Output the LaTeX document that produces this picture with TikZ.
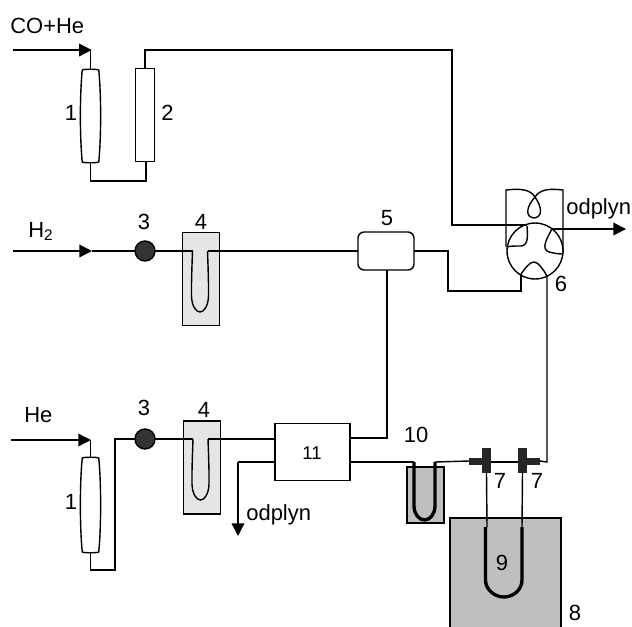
\documentclass[tikz,border=0pt]{standalone}
\usepackage{fontspec}
\setmainfont{Liberation Sans}
\usetikzlibrary{arrows.meta}
\tikzset{
  pipe/.style={line width=0.8pt},
  flow/.style={pipe,-{Triangle[length=7.2pt,width=7.2pt]}},
  thicktube/.style={line width=1.9pt},
  tag/.style={font=\fontsize{12.5}{15}\selectfont,inner sep=0pt},
  hollow/.style={draw=none,inner sep=0pt,outer sep=0pt},
  unit/.style={draw,line width=0.8pt,inner sep=0pt,outer sep=0pt},
  pump/.style={unit,circle,fill=black!80,minimum size=0.4cm},
  trapbox/.style={unit,fill=black!10,minimum width=0.75cm,minimum height=1.86cm},
  tee/.style={fill=black!85,draw=none,inner sep=0pt,outer sep=0pt},
}
% column with slightly bulged walls, drawn on an empty node
\newcommand{\barrel}[1]{
\draw[pipe] (#1.north west) .. controls +(1,-1) and +(-1,-1) .. (#1.north east)
  .. controls +(2.5,25) and +(2.5,-25) .. (#1.south east)
  .. controls +(-1,1) and +(1,1) .. (#1.south west)
  .. controls +(-2.5,-25) and +(-2.5,25) .. (#1.north west);
}
% thin U tube hanging in a trap, with its two mouths named
\newcommand{\traptube}[2]{
\begin{scope}[shift={(#2)}]
\coordinate (#1L) at (-7.5,0);
\coordinate (#1R) at (7.5,0);
\draw[pipe] (#1L) .. controls (-8.2,19) and (-8.7,34) .. (-8.5,45)
  .. controls (-8.2,55) and (-4,61) .. (0,61)
  .. controls (4,61) and (8.2,55) .. (8.5,45)
  .. controls (8.7,34) and (8.2,19) .. (#1R);
\end{scope}
}
\begin{document}
\begin{tikzpicture}[x=0.02cm,y=-0.02cm]
\useasboundingbox (0,0) rectangle (632,626);

% Top line: CO+He
\node[hollow,minimum width=0.33cm,minimum height=1.84cm] (colA) at (90.5,116) {};
\barrel{colA}
\node[unit,minimum width=0.37cm,minimum height=1.85cm] (dryer) at (145,115) {};
\coordinate (coStart) at (13,50);
\coordinate (coEnd) at (91.7,50);
\coordinate (dryerUp) at (145,50);
\coordinate (dryerTurn) at (452,50);
\coordinate (valveIn) at (527,225);
\coordinate (jointL) at (90.5,181);
\coordinate (jointR) at (146,181);
\draw[flow] (coStart) -- (coEnd);
\draw[pipe] (coEnd -| colA.north) -- (colA.north);
\draw[pipe] (colA.south) -- (jointL) -- (jointR) -- (jointR |- dryer.south);
\draw[pipe] (dryer.north) -- (dryerUp) -- (dryerTurn) -- (dryerTurn |- valveIn) -- (valveIn);

% Middle line: H2
\coordinate (hStart) at (13,251);
\coordinate (hEnd) at (92,251);
\node[pump] (pumpA) at (145,251) {};
\node[trapbox] (trapA) at (201,279) {};
\traptube{tubeA}{200,251}
\node[unit,rectangle,rounded corners=3.5pt,minimum width=1.12cm,minimum height=0.76cm] (mixer) at (386,251) {};
\draw[flow] (hStart) -- (hEnd);
\draw[pipe] (hEnd) -- (pumpA.west);
\draw[pipe] (pumpA.east) -- (tubeAL);
\draw[pipe] (tubeAR) -- (mixer.west);

% Valve
\node[unit,circle,minimum size=1.12cm] (valve) at (535,251) {};
\coordinate (loopWest) at (506,190);
\coordinate (loopEast) at (563,190);
\coordinate (loopDownW) at (506,247);
\coordinate (loopDownE) at (563,253);
\draw[pipe] (loopDownW) -- (loopWest) .. controls (520,188.5) and (530,189) .. (535,197)
  .. controls (542,207) and (543,217) .. (534,218) .. controls (525,217) and (526,207) .. (535,197)
  .. controls (540,189) and (550,188.5) .. (loopEast) -- (loopDownE);
\coordinate (chanA) at (527,226);
\coordinate (chanB) at (552,229);
\coordinate (chanC) at (521,274);
\coordinate (chanD) at (547,276);
\draw[pipe] (chanA) .. controls (528,238) and (528,247) .. (519,246) .. controls (515,246) and (510,246) .. (507,247);
\draw[pipe] (chanB) .. controls (546,240) and (541,249) .. (549,252) .. controls (553,253) and (558,254) .. (563,254);
\draw[pipe] (chanC) .. controls (526,267) and (530,262) .. (534,262) .. controls (538,262) and (543,269) .. (chanD);
\coordinate (ventA) at (626,229);
\draw[flow] (chanB) -- (ventA);
\coordinate (mixOutA) at (448,251);
\coordinate (mixOutB) at (448,291);
\draw[pipe] (mixer.east) -- (mixOutA) -- (mixOutB) -- (mixOutB -| chanC) -- (chanC);

% Bottom line: He
\node[hollow,minimum width=0.33cm,minimum height=1.88cm] (colB) at (90.5,505) {};
\barrel{colB}
\coordinate (heStart) at (11,440);
\coordinate (heEnd) at (91,440);
\coordinate (jointC) at (90.5,570);
\coordinate (jointD) at (115,570);
\coordinate (jointE) at (115,439);
\node[pump] (pumpB) at (145,439) {};
\node[trapbox] (trapB) at (202,467.5) {};
\traptube{tubeB}{200.5,439}
\node[unit,minimum width=1.5cm,minimum height=1.13cm] (unitEl) at (312.5,452) {};
\draw[flow] (heStart) -- (heEnd);
\draw[pipe] (heEnd -| colB.north) -- (colB.north);
\draw[pipe] (colB.south) -- (jointC) -- (jointD) -- (jointE) -- (pumpB.west);
\draw[pipe] (pumpB.east) -- (tubeBL);
\draw[pipe] (tubeBR) -- (tubeBR -| unitEl.west);
\coordinate (ventB) at (238,536);
\coordinate (ventTurn) at (238,462);
\draw[pipe] (unitEl.west |- ventTurn) -- (ventTurn);
\draw[flow] (ventTurn) -- (ventB);
\coordinate (elUp) at (387,438);
\draw[pipe] (mixer.south -| elUp) -- (elUp) -- (elUp -| unitEl.east);

% Cold trap and tees
\node[unit,fill=black!25,minimum width=0.74cm,minimum height=1.12cm] (trapC) at (425.5,495) {};
\coordinate (trapCL) at (414,462);
\coordinate (trapCR) at (435,462);
\draw[thicktube] (trapCL) -- (414,506) .. controls (414,514) and (419,520) .. (424.5,520)
  .. controls (430,520) and (435,514) .. (435,506) -- (trapCR);
\draw[pipe] (unitEl.east |- trapCL) -- (trapCL);
\node[tee,minimum width=0.18cm,minimum height=0.5cm] (teeA) at (486.5,460.5) {};
\node[tee,minimum width=0.18cm,minimum height=0.5cm] (teeB) at (522.5,460.5) {};
\node[tee,minimum width=0.28cm,minimum height=0.14cm] (stubA) at (476,461) {};
\node[tee,minimum width=0.28cm,minimum height=0.14cm] (stubB) at (533,461) {};
\coordinate (backTurn) at (547,462);
\draw[pipe] (trapCR) -- (stubA.west);
\draw[pipe] (teeA.east |- trapCL) -- (teeB.west |- trapCL);
\draw[pipe] (stubB.east) -- (backTurn) -- (chanD);

% Bath with reactor
\node[unit,fill=black!25,minimum width=2.22cm,minimum height=2.2cm] (bath) at (505.5,573) {};
\coordinate (loopL) at (487,527);
\coordinate (loopR) at (522,527);
\draw[pipe] (teeA.south) -- (loopL);
\draw[pipe] (teeB.south) -- (loopR);
\draw[thicktube] (485.5,527) -- (485.5,580) .. controls (485.5,590) and (495,597) .. (504,597)
  .. controls (513,597) and (522,590) .. (522,580) -- (522,527);

% Labels
\node[tag,anchor=base west] (labCo) at (10,33) {CO+He};
\node[tag,anchor=base west] (labH) at (28,237) {H\textsubscript{2}};
\node[tag,anchor=base west] (labHe) at (24,422) {He};
\node[tag,anchor=base west] (labVentA) at (566,214) {odplyn};
\node[tag,anchor=base west] (labVentB) at (246,520) {odplyn};
\node[tag] (lab1a) at (71,113) {1};
\node[tag] (lab2) at (167.5,113) {2};
\node[tag] (lab3a) at (144,222) {3};
\node[tag] (lab4a) at (201,222) {4};
\node[tag] (lab5) at (387,218) {5};
\node[tag] (lab6) at (561,284) {6};
\node[tag] (lab1b) at (71,502) {1};
\node[tag] (lab3b) at (144,408) {3};
\node[tag] (lab4b) at (204,410) {4};
\node[tag,font=\fontsize{10.5}{12}\selectfont] (lab11) at (312,453) {11};
\node[tag] (lab10) at (416,435) {10};
\node[tag] (lab7a) at (500,481) {7};
\node[tag] (lab7b) at (537,481) {7};
\node[tag] (lab9) at (502,563) {9};
\node[tag] (lab8) at (575,613) {8};
\end{tikzpicture}
\end{document}
